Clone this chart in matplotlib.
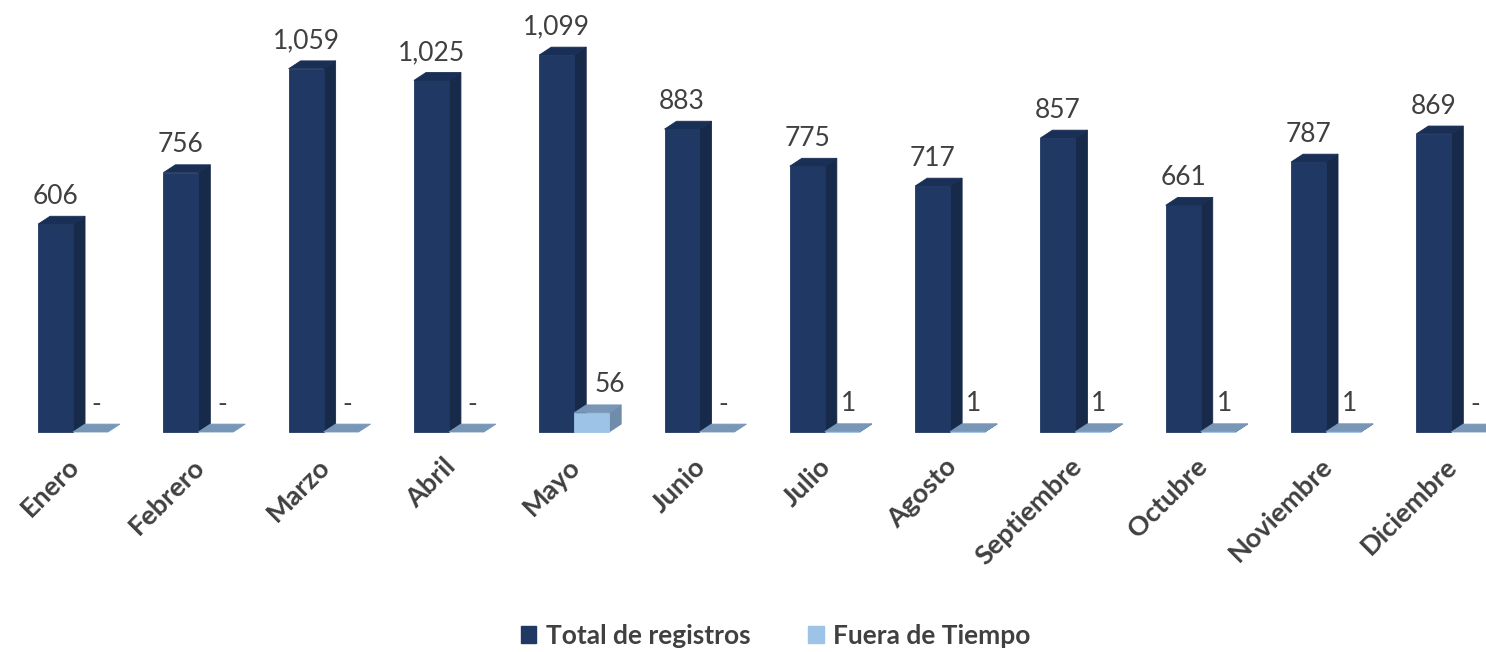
import numpy as np
import matplotlib.pyplot as plt
from matplotlib.patches import Patch

meses = ['Enero', 'Febrero', 'Marzo', 'Abril', 'Mayo', 'Junio', 'Julio',
         'Agosto', 'Septiembre', 'Octubre', 'Noviembre', 'Diciembre']
total = [606, 756, 1059, 1025, 1099, 883, 775, 717, 857, 661, 787, 869]
fuera = [0, 0, 0, 0, 56, 0, 1, 1, 1, 1, 1, 0]

plt.rcParams['font.family'] = ['Lato', 'DejaVu Sans']

fig = plt.figure(figsize=(14.86, 6.52), dpi=100)
ax = fig.add_axes([0, 0, 1, 1])
ax.set_xlim(-0.5826, 11.277)
ax.set_ylim(-641.4, 1259.5)
ax.axis('off')

w = 0.279      # bar front width
dx = 0.096     # depth offset in x
dy = 23.0      # depth offset in y

# (front, side, top) colours
dark = ('#203864', '#172a4a', '#1a2f56')
light = ('#9dc3e6', '#6f8cab', '#7897b8')


def bar3d(x0, h, cols):
    front, side, top = cols
    if h > 0:
        ax.fill([x0 + w, x0 + w + dx, x0 + w + dx, x0 + w],
                [0, dy, h + dy, h], fc=side, ec=side, lw=0.6)
        ax.fill([x0, x0 + w, x0 + w, x0], [0, 0, h, h], fc=front,
                ec=front, lw=0.6)
    ax.fill([x0, x0 + w, x0 + w + dx, x0 + dx],
            [h, h, h + dy, h + dy], fc=top, ec=top, lw=0.6)


def fmt(v):
    return '-' if v == 0 else f'{v:,}'


x = np.arange(len(meses))
for i in x:
    bar3d(i - w, total[i], dark)
    bar3d(i, fuera[i], light)
    ax.text(i - w / 2, total[i] + dy + 22, fmt(total[i]), ha='center',
            va='bottom', fontsize=19, color='#404040')
    ax.text(i + w / 2 + dx / 2 + (0.1 if fuera[i] > 1 else 0),
            fuera[i] + dy + 22, fmt(fuera[i]),
            ha='center', va='bottom', fontsize=19, color='#404040')
    ax.text(i - 0.05, -64, meses[i], rotation=45, rotation_mode='anchor',
            ha='right', va='top', fontsize=19.5, fontweight='bold',
            color='#404040')

handles = [Patch(color=dark[0], label='Total de registros'),
           Patch(color=light[0], label='Fuera de Tiempo')]
leg = fig.legend(handles=handles, loc='lower center', ncol=2, frameon=False,
                 bbox_to_anchor=(0.522, -0.03), handlelength=0.6,
                 handleheight=0.6, handletextpad=0.35, columnspacing=2.2,
                 prop={'size': 19, 'weight': 'bold'})
for t in leg.get_texts():
    t.set_color('#404040')

fig.savefig('out.png', dpi=100)
